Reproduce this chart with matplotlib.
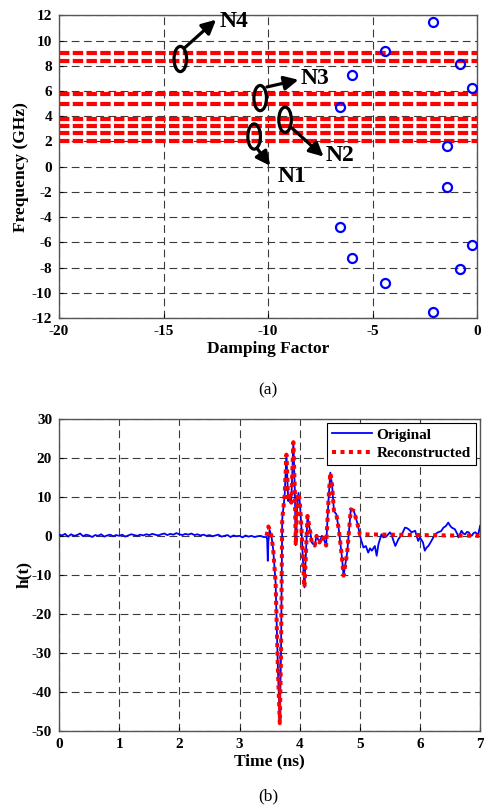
import numpy as np
import matplotlib.pyplot as plt
from matplotlib.patches import Ellipse

plt.rcParams['font.family'] = ['Liberation Serif', 'DejaVu Serif']
plt.rcParams['font.weight'] = 'bold'
plt.rcParams['axes.unicode_minus'] = False

# ---- (a) pole plot data ----
damping = [-2.1, -4.4, -0.8, -6.0, -0.25, -6.55, -1.45,
           -1.45, -6.55, -0.25, -6.0, -0.8, -4.4, -2.1]
freq = [11.5, 9.2, 8.15, 7.25, 6.25, 4.75, 1.65,
        -1.65, -4.75, -6.25, -7.25, -8.15, -9.2, -11.5]
band_lines = [2.05, 2.65, 3.25, 3.75, 5.0, 5.75, 8.4, 9.0]

# label, ellipse centre, arrow start, arrow end, text pos
notes = [
    ('N1', (-10.67, 2.39), (-10.54, 1.47), (-9.90, 0.07), (-9.57, -0.8)),
    ('N2', (-9.19, 3.72), (-8.95, 3.19), (-7.35, 0.80), (-7.27, 0.9)),
    ('N3', (-10.38, 5.44), (-10.06, 6.32), (-8.55, 6.89), (-8.47, 6.97)),
    ('N4', (-14.2, 8.54), (-13.97, 9.46), (-12.49, 11.66), (-12.30, 11.55)),
]

# ---- (b) impulse response data ----
t_base = np.round(np.arange(0, 3.45, 0.05), 2)
h_base = [0.3, 0.1, 0.5, -0.2, 0.4, 0.0, 0.2, 0.6, -0.1, 0.3,
          0.1, -0.3, 0.2, 0.0, 0.4, -0.2, 0.1, 0.3, -0.1, 0.2,
          0.0, 0.3, -0.2, 0.1, 0.4, 0.2, 0.0, 0.3, 0.1, 0.4,
          0.2, 0.5, 0.3, 0.1, 0.4, 0.6, 0.2, 0.5, 0.3, 0.7,
          0.4, 0.2, 0.5, 0.3, 0.6, 0.2, 0.4, 0.1, 0.3, 0.0,
          0.2, -0.1, 0.1, 0.3, -0.2, 0.0, 0.2, -0.3, 0.1, -0.1,
          0.0, -0.4, 0.1, -0.2, 0.0, -0.3, -0.1, 0.0, -0.3]
t_onset = [3.45, 3.46, 3.47, 3.48]
h_onset = [-0.3, -1.0, -6.4, -1.5]

t_rec = [3.45, 3.48, 3.50, 3.53, 3.56, 3.60, 3.64, 3.67, 3.69, 3.71,
         3.75, 3.78, 3.81, 3.83, 3.86, 3.895, 3.92, 3.935, 3.96, 3.98,
         4.00, 4.03, 4.06, 4.08, 4.10, 4.13, 4.18, 4.20, 4.25, 4.28,
         4.33, 4.37, 4.40, 4.44, 4.48, 4.51, 4.54, 4.57, 4.61, 4.65,
         4.70, 4.73, 4.79, 4.85, 4.90, 4.96, 5.00, 7.00]
h_rec = [0.0, 2.4, 1.5, 0.0, -3.5, -12.0, -35.0, -48.0, -30.0, 4.3,
         10.2, 20.8, 8.9, 10.2, 8.5, 24.0, 11.6, -2.4, 8.0, 11.0,
         9.0, 2.0, -8.0, -13.2, -6.0, 5.1, 0.6, -1.7, -2.5, 0.0,
         -1.7, 0.0, -0.8, -2.5, 9.4, 16.2, 12.8, 6.4, 5.5, 1.7,
         -5.1, -10.2, -4.3, 6.8, 6.4, 3.2, 0.4, 0.0]

t_tail = [5.02, 5.06, 5.10, 5.14, 5.17, 5.20, 5.25, 5.28, 5.31, 5.36,
          5.39, 5.44, 5.50, 5.53, 5.56, 5.59, 5.64, 5.70, 5.75, 5.78,
          5.81, 5.86, 5.92, 5.97, 6.00, 6.05, 6.08, 6.11, 6.14, 6.19,
          6.25, 6.30, 6.35, 6.39, 6.43, 6.47, 6.50, 6.53, 6.58, 6.62,
          6.64, 6.69, 6.72, 6.75, 6.78, 6.81, 6.84, 6.86, 6.89, 6.92,
          6.95, 6.97, 7.00]
h_tail = [-1.0, -3.0, -2.6, -4.3, -3.2, -3.8, -2.6, -5.1, -2.1, 0.4,
          -0.4, -0.2, 0.9, 0.2, -1.3, -2.6, -0.9, 0.4, 2.1, 2.0,
          1.7, 0.9, 1.3, -1.3, -0.4, -1.7, -3.8, -3.0, -2.6, -1.3,
          0.4, 0.9, 1.2, 2.1, 2.5, 3.4, 2.6, 2.1, 1.7, 0.5,
          -0.4, 1.3, 0.6, 0.4, 1.0, 0.9, 0.2, 0.0, 0.7, 0.9,
          0.5, 0.4, 2.6]

t_orig = list(t_base) + t_onset + t_rec[2:-1] + t_tail
h_orig = list(h_base) + h_onset + h_rec[2:-1] + h_tail

grid_kw = dict(color='#3a3a3a', linestyle=(0, (7, 4)), linewidth=0.8)

fig = plt.figure(figsize=(4.84, 8.09), dpi=100)

# ---------------- (a) ----------------
ax1 = fig.add_axes([0.122, 0.607, 0.864, 0.374])
for y in band_lines:
    ax1.axhline(y, color='red', linewidth=3, linestyle=(0, (2.5, 0.8)), zorder=2)
ax1.plot(damping, freq, 'o', markerfacecolor='none', markeredgecolor='blue',
         markersize=6.5, markeredgewidth=1.6, zorder=3)

for label, c, a0, a1, tp in notes:
    ax1.add_patch(Ellipse(c, 0.6, 2.0, fill=False, edgecolor='black', linewidth=2.3, zorder=4))
    ax1.annotate('', xy=a1, xytext=a0,
                 arrowprops=dict(arrowstyle='-|>', color='black', lw=2.3,
                                 mutation_scale=21, shrinkA=0, shrinkB=0), zorder=4)
    ax1.text(tp[0], tp[1], label, fontsize=17, fontweight='bold', ha='left', va='center', zorder=5)

ax1.set_xlim(-20, 0)
ax1.set_ylim(-12, 12)
ax1.set_xticks([-20, -15, -10, -5, 0])
ax1.set_yticks(np.arange(-12, 13, 2))
ax1.grid(True, **grid_kw)
ax1.set_axisbelow(True)
ax1.set_xlabel('Damping Factor', fontsize=12.5, fontweight='bold', labelpad=2)
ax1.set_ylabel('Frequency (GHz)', fontsize=12.5, fontweight='bold', labelpad=2)

# ---------------- (b) ----------------
ax2 = fig.add_axes([0.122, 0.0964, 0.87, 0.386])
ax2.plot(t_orig, h_orig, color='blue', linewidth=1.3, label='Original', zorder=3)
ax2.plot(t_rec, h_rec, color='red', linewidth=2.9, linestyle=(0, (1, 1.1)),
         label='Reconstructed', zorder=4)
ax2.set_xlim(0, 7)
ax2.set_ylim(-50, 30)
ax2.set_xticks(np.arange(0, 8, 1))
ax2.set_yticks(np.arange(-50, 31, 10))
ax2.grid(True, **grid_kw)
ax2.set_axisbelow(True)
ax2.set_xlabel('Time (ns)', fontsize=12.5, fontweight='bold', labelpad=2)
ax2.set_ylabel('h(t)', fontsize=12.5, fontweight='bold', labelpad=0)
leg = ax2.legend(loc='upper right', prop={'weight': 'bold', 'size': 11},
                 fancybox=False, framealpha=1, edgecolor='black', borderaxespad=0.25,
                 handlelength=2.6, handletextpad=0.3, borderpad=0.35, labelspacing=0.3)
leg.get_frame().set_linewidth(0.8)

for ax in (ax1, ax2):
    ax.tick_params(direction='in', length=3, labelsize=11, pad=5, width=0.8)
    for lab in ax.get_xticklabels() + ax.get_yticklabels():
        lab.set_fontweight('bold')
    for s in ax.spines.values():
        s.set_color('#555555')
        s.set_linewidth(1.0)

fig.text(0.554, 0.518, '(a)', fontsize=12.5, fontweight='normal', ha='center', va='center')
fig.text(0.554, 0.015, '(b)', fontsize=12.5, fontweight='normal', ha='center', va='center')

fig.savefig('out.png', dpi=100)
